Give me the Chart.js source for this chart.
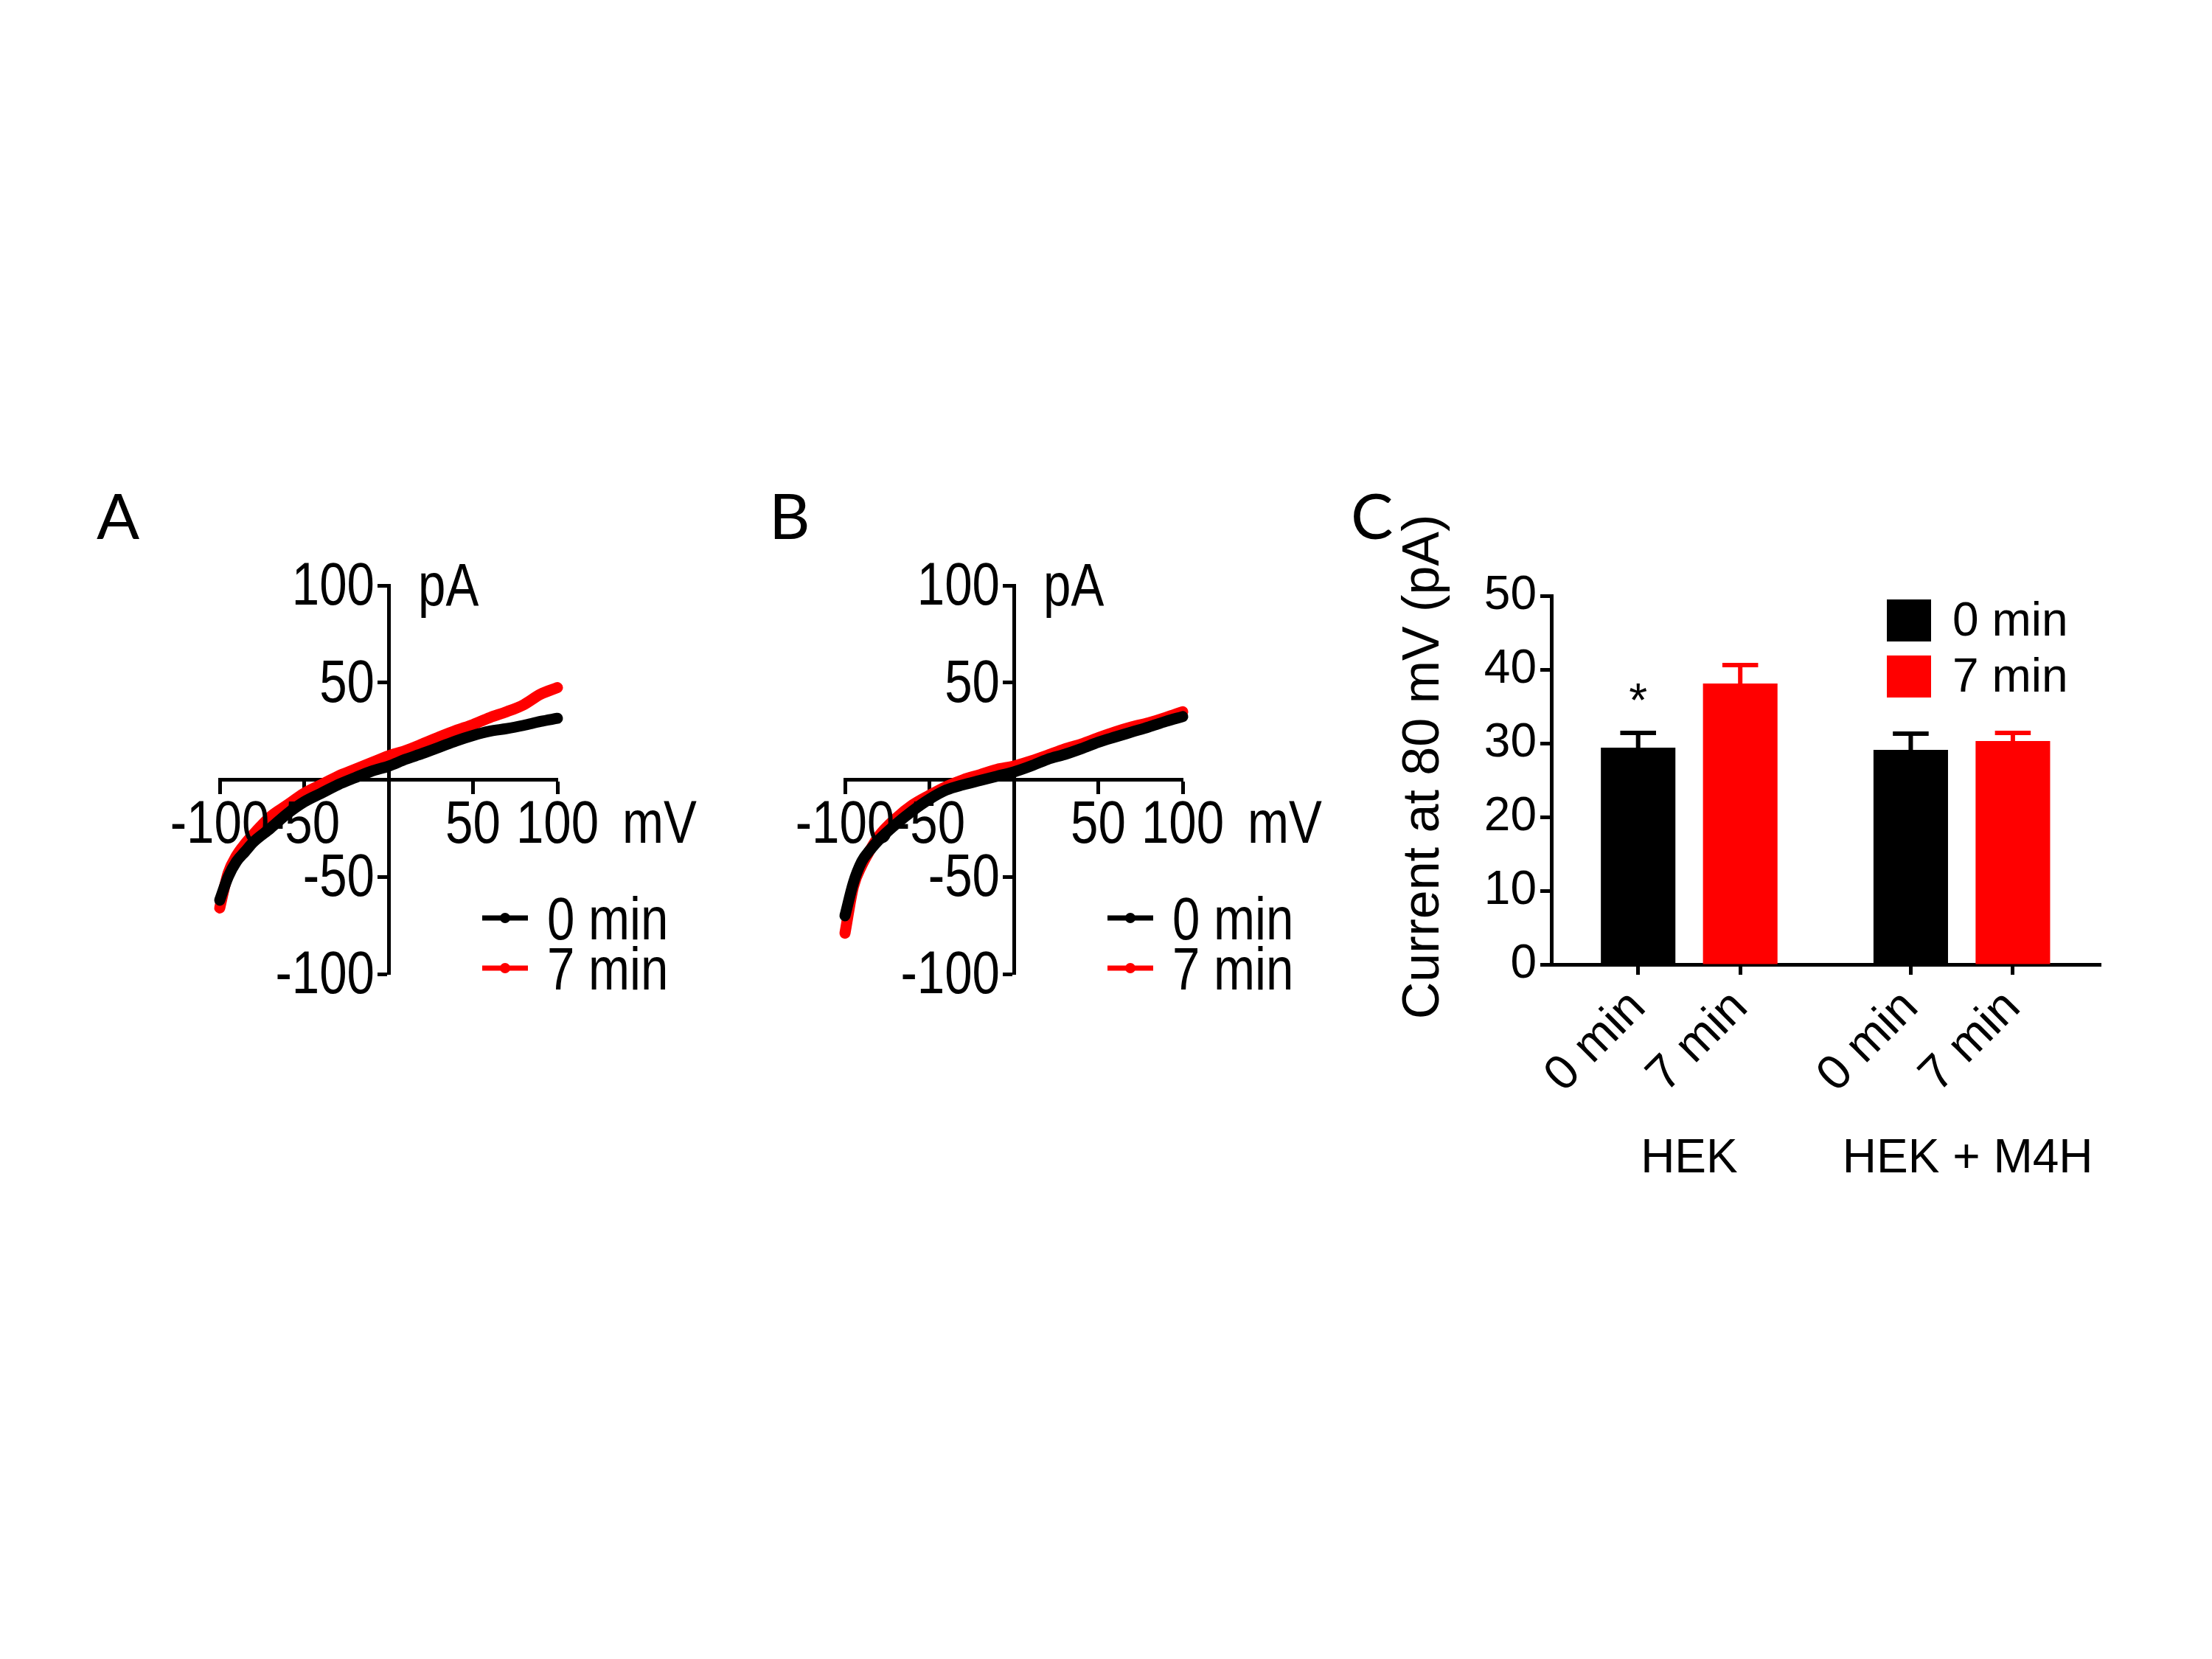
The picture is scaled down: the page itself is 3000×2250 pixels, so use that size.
<!DOCTYPE html>
<html>
<head>
<meta charset="utf-8">
<script src="https://cdn.jsdelivr.net/npm/chart.js@4.4.0/dist/chart.umd.min.js"></script>
<style>
  html, body { margin: 0; padding: 0; background: #fff; }
  #wrap { position: relative; width: 3000px; height: 2250px; background: #fff; }
  #wrap canvas { position: absolute; left: 0; top: 0; }
</style>
</head>
<body>
<div id="wrap">
  <canvas id="chartA" width="3000" height="2250"></canvas>
  <canvas id="chartB" width="3000" height="2250"></canvas>
  <canvas id="chartC" width="3000" height="2250"></canvas>
</div>
<script>
const VOLTAGE = [-100, -95, -90, -85, -80, -70, -60, -50, -40, -30, -20, -10, 0, 10, 20, 30, 40, 50, 60, 70, 80, 90, 100];
const A_0MIN = [-62, -50, -42, -37, -32, -25, -17.5, -11.4, -7, -2.6, 1, 4.4, 7, 10.5, 13.5, 16.7, 20, 22.8, 25, 26.3, 28, 30, 31.6];
const A_7MIN = [-66, -48, -39, -33, -28, -19, -13, -7, -2.6, 1.8, 5.3, 8.8, 12.3, 15, 18.4, 22, 25.4, 28.4, 32, 35, 38.6, 44, 47.4];
const B_0MIN = [-70, -53, -42, -36, -31, -23, -16, -10, -5.3, -2.6, -0.4, 1.8, 4, 7, 10.5, 13, 16, 19.3, 22, 24.6, 27.2, 30, 32.5];
const B_7MIN = [-79, -55, -44, -36, -29, -20, -13, -8, -3.5, 0, 2.6, 5.3, 7, 9.6, 12.6, 15.8, 18.4, 21.6, 24.6, 27.2, 29.3, 32, 35];
const IV_TICKS = [-100, -50, 0, 50, 100];

// panel C: current at 80 mV
const GROUPS = ["HEK", "HEK + M4H"];
const CONDITIONS = ["0 min", "7 min"];
const MEAN_0MIN = [29.4, 29.1];
const SEM_0MIN = [2.0, 2.2];
const MEAN_7MIN = [38.1, 30.3];
const SEM_7MIN = [2.5, 1.1];
const SIGNIF_0MIN = ["*", ""];
const C_TICKS = [0, 10, 20, 30, 40, 50];
const C_TITLE = "Current at 80 mV (pA)";

const REGULAR = "'Liberation Sans', Arial, sans-serif";
const LETTER = "Lato, 'Open Sans', sans-serif";
const NARROW_X = 0.83; // A and B use a condensed face

Chart.defaults.color = "#000";
Chart.defaults.font.family = REGULAR;

function panelLetter(letter, x, y) {
  return {
    id: "letter" + letter,
    afterDraw(chart) {
      const ctx = chart.ctx;
      ctx.save();
      ctx.fillStyle = "#000";
      ctx.font = "86px " + LETTER;
      ctx.textBaseline = "alphabetic";
      ctx.fillText(letter, x, y);
      ctx.restore();
    },
  };
}

function narrowText(ctx, s, px, py, align) {
  ctx.save();
  ctx.translate(px, py);
  ctx.scale(NARROW_X, 1);
  ctx.textAlign = align;
  ctx.fillText(s, 0, 0);
  ctx.restore();
}

// tick labels, units and the little line legend for the I-V panels
const ivExtras = {
  id: "ivExtras",
  afterDraw(chart) {
    const { ctx, chartArea, scales } = chart;
    const x0 = scales.x.getPixelForValue(0);
    const y0 = scales.y.getPixelForValue(0);
    ctx.save();
    ctx.fillStyle = "#000";
    ctx.font = "81px " + REGULAR;
    ctx.textBaseline = "alphabetic";
    scales.x.ticks.forEach((t) => {
      if (t.value !== 0) narrowText(ctx, String(t.value), scales.x.getPixelForValue(t.value), y0 + 85, "center");
    });
    scales.y.ticks.forEach((t) => {
      if (t.value !== 0) narrowText(ctx, String(t.value), x0 - 19, scales.y.getPixelForValue(t.value) + 26, "right");
    });
    narrowText(ctx, "pA", x0 + 40, scales.y.getPixelForValue(100) + 27, "left");
    narrowText(ctx, "mV", scales.x.getPixelForValue(100) + 88, y0 + 85, "left");

    chart.data.datasets.forEach((ds, i) => {
      const y = chartArea.bottom - 76 + i * 68;
      const lx = chartArea.left + 356;
      ctx.strokeStyle = ds.borderColor;
      ctx.lineWidth = 7;
      ctx.beginPath();
      ctx.moveTo(lx, y);
      ctx.lineTo(lx + 62, y);
      ctx.stroke();
      ctx.fillStyle = ds.borderColor;
      ctx.beginPath();
      ctx.arc(lx + 31, y, 7, 0, Math.PI * 2);
      ctx.fill();
      ctx.fillStyle = "#000";
      narrowText(ctx, ds.label, lx + 88, y + 29, "left");
    });
    ctx.restore();
  },
};

function ivChart(id, cur0, cur7, area, letter) {
  const axis = (tickLength) => ({
    type: "linear",
    min: -100,
    max: 100,
    border: { color: "#000", width: 5 },
    grid: { drawOnChartArea: false, drawTicks: true, tickLength: tickLength, tickWidth: 5, color: "#000" },
    afterBuildTicks: (s) => { s.ticks = IV_TICKS.map((v) => ({ value: v })); },
    ticks: { display: false, autoSkip: false, maxRotation: 0 },
  });
  const xAxis = axis(17);
  xAxis.position = { y: 0 };
  const yAxis = axis(13);
  yAxis.position = { x: 0 };

  return new Chart(document.getElementById(id), {
    type: "line",
    data: {
      datasets: [
        {
          label: "0 min",
          data: VOLTAGE.map((v, i) => ({ x: v, y: cur0[i] })),
          borderColor: "#000000",
          backgroundColor: "#000000",
        },
        {
          label: "7 min",
          data: VOLTAGE.map((v, i) => ({ x: v, y: cur7[i] })),
          borderColor: "#ff0000",
          backgroundColor: "#ff0000",
        },
      ],
    },
    options: {
      responsive: false,
      animation: false,
      devicePixelRatio: 1,
      layout: { padding: { left: area.left, top: area.top, right: 3000 - area.right, bottom: 2250 - area.bottom } },
      elements: {
        line: { borderWidth: 15, cubicInterpolationMode: "monotone", borderCapStyle: "round" },
        point: { radius: 0 },
      },
      datasets: { line: { clip: false } },
      scales: { x: xAxis, y: yAxis },
      plugins: { legend: { display: false }, tooltip: { enabled: false } },
    },
    plugins: [ivExtras, panelLetter(letter.text, letter.x, letter.y)],
  });
}

ivChart("chartA", A_0MIN, A_7MIN, { left: 298, right: 756, top: 794, bottom: 1321 }, { text: "A", x: 131, y: 731 });
ivChart("chartB", B_0MIN, B_7MIN, { left: 1146, right: 1604, top: 794, bottom: 1321 }, { text: "B", x: 1043, y: 731 });

// ---- panel C ----
const GROUP_STEP = 2.67;
const xPos = (g, c) => g * GROUP_STEP + c;
const TICK_POS = [xPos(0, 0), xPos(0, 1), xPos(1, 0), xPos(1, 1)];

const errorBars = {
  id: "errorBars",
  afterDatasetsDraw(chart) {
    const { ctx, scales } = chart;
    const sems = [SEM_0MIN, SEM_7MIN];
    const means = [MEAN_0MIN, MEAN_7MIN];
    ctx.save();
    chart.data.datasets.forEach((ds, di) => {
      const meta = chart.getDatasetMeta(di);
      meta.data.forEach((bar, i) => {
        const top = scales.y.getPixelForValue(means[di][i] + sems[di][i]);
        const half = bar.width * 0.24;
        ctx.strokeStyle = ds.backgroundColor;
        ctx.lineWidth = 6;
        ctx.beginPath();
        ctx.moveTo(bar.x, bar.y);
        ctx.lineTo(bar.x, top);
        ctx.moveTo(bar.x - half, top);
        ctx.lineTo(bar.x + half, top);
        ctx.stroke();
        if (di === 0 && SIGNIF_0MIN[i]) {
          ctx.fillStyle = "#000";
          ctx.font = "64px " + REGULAR;
          ctx.textAlign = "center";
          ctx.textBaseline = "alphabetic";
          ctx.fillText(SIGNIF_0MIN[i], bar.x, top - 22);
        }
      });
    });
    ctx.restore();
  },
  afterDraw(chart) {
    const { ctx, chartArea, scales } = chart;
    ctx.save();
    ctx.fillStyle = "#000";
    ctx.textAlign = "center";
    ctx.textBaseline = "middle";
    // y title, sitting a little above the middle of the axis
    ctx.save();
    ctx.font = "70px " + REGULAR;
    ctx.translate(chartArea.left - 172, (chartArea.top + chartArea.bottom) / 2 - 18);
    ctx.rotate(-Math.PI / 2);
    ctx.fillText(C_TITLE, 0, 0);
    ctx.restore();

    ctx.font = "64px " + REGULAR;
    GROUPS.forEach((g, gi) => {
      const cx = (scales.x.getPixelForValue(xPos(gi, 0)) + scales.x.getPixelForValue(xPos(gi, 1))) / 2;
      ctx.fillText(g, cx + (gi === 1 ? 8 : 0), chartArea.bottom + 264);
    });
    // legend
    ctx.textAlign = "left";
    chart.data.datasets.forEach((ds, i) => {
      const bx = chartArea.right - 290;
      const by = chartArea.top + 5 + i * 76;
      ctx.fillStyle = ds.backgroundColor;
      ctx.fillRect(bx, by, 60, 57);
      ctx.fillStyle = "#000";
      ctx.fillText(ds.label, bx + 89, by + 31);
    });
    ctx.restore();
  },
};

new Chart(document.getElementById("chartC"), {
  type: "bar",
  data: {
    datasets: [
      {
        label: CONDITIONS[0],
        data: GROUPS.map((g, i) => ({ x: xPos(i, 0), y: MEAN_0MIN[i] })),
        backgroundColor: "#000000",
      },
      {
        label: CONDITIONS[1],
        data: GROUPS.map((g, i) => ({ x: xPos(i, 1), y: MEAN_7MIN[i] })),
        backgroundColor: "#ff0000",
      },
    ],
  },
  options: {
    responsive: false,
    animation: false,
    devicePixelRatio: 1,
    layout: { padding: { left: 1889, top: 808, right: 151, bottom: 642 } },
    datasets: { bar: { grouped: false, barPercentage: 0.73, categoryPercentage: 1 } },
    scales: {
      x: {
        type: "linear",
        min: -0.85,
        max: 4.53,
        offset: false,
        border: { color: "#000", width: 5 },
        grid: { offset: false, drawOnChartArea: false, tickLength: 14, tickWidth: 5, color: "#000" },
        afterBuildTicks: (s) => { s.ticks = TICK_POS.map((v) => ({ value: v })); },
        afterFit: (s) => { s.height = 300; },
        ticks: {
          autoSkip: false,
          minRotation: 45,
          maxRotation: 45,
          padding: 6,
          font: { size: 66 },
          callback: (v, i) => CONDITIONS[i % 2],
        },
      },
      y: {
        min: 0,
        max: 50,
        border: { color: "#000", width: 5 },
        grid: { drawOnChartArea: false, tickLength: 15, tickWidth: 5, color: "#000" },
        afterBuildTicks: (s) => { s.ticks = C_TICKS.map((v) => ({ value: v })); },
        afterFit: (s) => { s.width = 215; },
        ticks: { padding: 5, font: { size: 64 } },
      },
    },
    plugins: { legend: { display: false }, tooltip: { enabled: false } },
  },
  plugins: [errorBars, panelLetter("C", 1832, 731)],
});
</script>
</body>
</html>
